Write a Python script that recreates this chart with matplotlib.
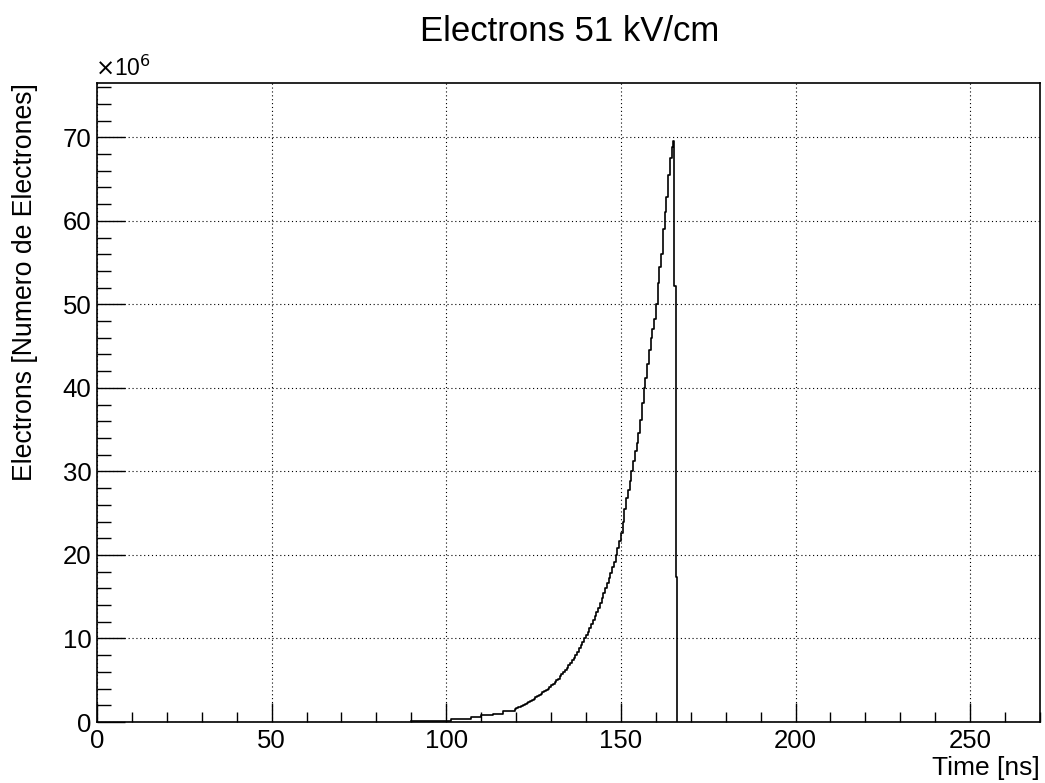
import matplotlib
matplotlib.use("Agg")
from matplotlib import pyplot as plt
from matplotlib.ticker import MultipleLocator

# time bins [ns] (left edges) and electron counts [x 1e6]
time_ns = [90, 101.4, 107.2, 110, 113.4, 116.3, 119.6,
           120, 120.5, 121, 121.5, 122, 122.5, 123, 123.5, 124, 124.5,
           125, 125.5, 126, 126.5, 127, 127.5, 128, 128.5, 129, 129.5,
           130, 130.5, 131, 131.5, 132, 132.5, 133, 133.5, 134, 134.5,
           135, 135.5, 136, 136.5, 137, 137.5, 138, 138.5, 139, 139.5,
           140, 140.5, 141, 141.5, 142, 142.5, 143, 143.5, 144, 144.5,
           145, 145.5, 146, 146.5, 147, 147.5, 148, 148.5, 149, 149.5,
           150, 150.5, 151, 151.5, 152, 152.5, 153, 153.5, 154, 154.5,
           155, 155.5, 156, 156.5, 157, 157.5, 158, 158.5, 159, 159.5,
           160, 160.5, 161, 161.5, 162, 162.5, 163, 163.5, 164, 164.5,
           165, 165.3, 165.8, 166.2]
electrons = [0.08, 0.32, 0.6, 0.8, 1.0, 1.3, 1.55,
             1.65, 1.75, 1.85, 1.95, 2.05, 2.15, 2.25, 2.4, 2.5, 2.65,
             2.8, 2.95, 3.1, 3.25, 3.4, 3.55, 3.7, 3.85, 4.0, 4.2,
             4.4, 4.6, 4.8, 5.0, 5.2, 5.45, 5.7, 5.95, 6.2, 6.5,
             6.8, 7.1, 7.4, 7.7, 8.0, 8.4, 8.8, 9.2, 9.6, 10.0,
             10.4, 10.8, 11.2, 11.7, 12.2, 12.7, 13.2, 13.7, 14.2, 14.8,
             15.4, 16.0, 16.6, 17.2, 17.8, 18.5, 19.2, 20.0, 20.8, 21.7,
             22.6, 24.0, 25.5, 26.8, 27.8, 28.8, 30.0, 31.2, 32.4, 33.4,
             34.6, 36.2, 38.2, 40.0, 41.2, 42.8, 44.5, 46.0, 47.0, 48.2,
             50.0, 52.6, 54.5, 56.0, 59.0, 61.0, 62.8, 65.5, 67.5, 68.8,
             69.5, 52.2, 17.3, 0.0]

plt.rcParams['font.family'] = ['Liberation Sans', 'DejaVu Sans']

fig = plt.figure(figsize=(10.45, 7.83), dpi=100)
ax = fig.add_axes([0.0928, 0.0779, 0.9024, 0.8161])

ax.step(time_ns, electrons, where="post", color="black", lw=1.2)

ax.set_xlim(0, 270)
ax.set_ylim(0, 76.5)

ax.xaxis.set_major_locator(MultipleLocator(50))
ax.xaxis.set_minor_locator(MultipleLocator(10))
ax.yaxis.set_major_locator(MultipleLocator(10))
ax.yaxis.set_minor_locator(MultipleLocator(2))

ax.tick_params(axis="both", which="both", direction="in", color="black", width=1,
               labelsize=18.5)
ax.tick_params(axis="x", which="major", length=13.5, pad=5)
ax.tick_params(axis="x", which="minor", length=7)
ax.tick_params(axis="y", which="major", length=20, pad=4)
ax.tick_params(axis="y", which="minor", length=10)

ax.grid(True, which="major", color="black", ls=(0, (1, 2.5)), lw=0.8)
ax.set_axisbelow(True)
for s in ax.spines.values():
    s.set_linewidth(1.2)

fig.text(0.545, 0.960, "Electrons 51 kV/cm", ha="center", va="center", fontsize=25)
fig.text(0.091, 0.897, r"$\times$10$^{6}$", ha="left", va="bottom", fontsize=16.5)

ax.set_ylabel("Electrons [Numero de Electrones]", fontsize=19.2, loc="top", labelpad=18)
ax.set_xlabel("Time [ns]", fontsize=19, loc="right", labelpad=2)

plt.savefig("out.png", dpi=100)
